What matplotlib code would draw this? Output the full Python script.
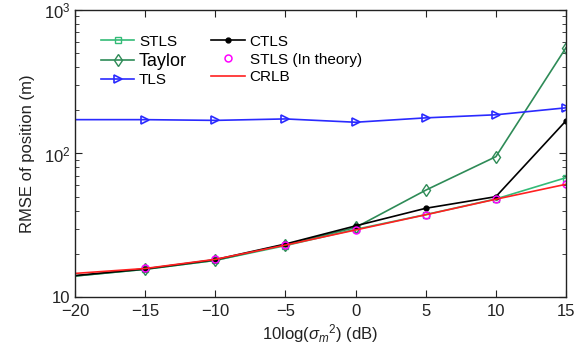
import matplotlib
matplotlib.use('Agg')
import matplotlib.pyplot as plt
from matplotlib.ticker import FixedLocator, FixedFormatter, LogLocator, NullFormatter

plt.rcParams['font.family'] = ['Liberation Sans', 'DejaVu Sans']
plt.rcParams['mathtext.fontset'] = 'custom'
plt.rcParams['mathtext.rm'] = 'Liberation Sans'
plt.rcParams['mathtext.it'] = 'Liberation Sans:italic'

# noise level (dB) and RMSE of position (m)
snr_db = [-20, -15, -10, -5, 0, 5, 10, 15]
stls = [14.0, 15.6, 18.0, 22.8, 29.6, 37.5, 48.2, 67.8]
taylor = [14.0, 15.6, 18.0, 23.2, 30.5, 55.5, 95.0, 546.0]
tls = [172, 172, 170, 174, 165, 177, 186, 208]
ctls = [14.1, 15.7, 18.2, 23.4, 31.3, 41.5, 50.0, 169.0]
stls_theory = [14.6, 15.8, 18.3, 23.0, 29.3, 37.4, 48.0, 61.0]
crlb = [14.6, 15.8, 18.3, 23.0, 29.3, 37.4, 48.0, 61.0]

fig = plt.figure(figsize=(5.75, 3.54), dpi=100)
ax = fig.add_axes([0.1304, 0.161, 0.854, 0.811])

mk = slice(1, None)
ax.plot(snr_db, stls, '-s', color='#33bb77', lw=1.2, ms=5, mfc='none', mew=1, markevery=mk, label='STLS')
ax.plot(snr_db, taylor, '-d', color='#2e8b57', lw=1.2, ms=6, mfc='none', mew=1, markevery=mk, label='Taylor')
ax.plot(snr_db, tls, '->', color='#2a2aff', lw=1.2, ms=6, mfc='none', mew=1.2, markevery=mk, label='TLS')
ax.plot(snr_db, ctls, '-o', color='black', lw=1.2, ms=3.5, markevery=mk, label='CTLS')
ax.plot(snr_db[1:], stls_theory[1:], 'o', color='#ff00ff', ms=5, mfc='none', mew=1.1, ls='none', label='STLS (In theory)')
ax.plot(snr_db, crlb, '-', color='#ff2020', lw=1.2, label='CRLB')

ax.set_yscale('log')
ax.set_xlim(-20, 15)
ax.set_ylim(10, 1000)
ax.xaxis.set_major_locator(FixedLocator(snr_db))
ax.set_xticklabels(['\u221220', '\u221215', '\u221210', '\u22125', '0', '5', '10', '15'])
ax.yaxis.set_major_locator(FixedLocator([10, 100, 1000]))
ax.yaxis.set_major_formatter(FixedFormatter(['10', '$10^2$', '$10^3$']))
ax.yaxis.set_minor_locator(LogLocator(base=10, subs=range(2, 10)))
ax.yaxis.set_minor_formatter(NullFormatter())

ax.tick_params(which='both', direction='in', top=True, right=True, labelsize=12, colors='#222222')
ax.tick_params(which='major', length=5)
ax.tick_params(which='minor', length=3)
ax.tick_params(axis='x', pad=5)
for s in ax.spines.values():
    s.set_linewidth(1.0)
    s.set_color('#222222')

ax.set_xlabel(r'10log($\sigma_{m}$$^{2}$) (dB)', fontsize=12, color='#222222', labelpad=2)
ax.set_ylabel('RMSE of position (m)', fontsize=12, color='#222222', labelpad=6)

leg = ax.legend(ncol=2, loc='upper left', bbox_to_anchor=(0.04, 0.935), frameon=False,
                fontsize=11, handlelength=2.2, handletextpad=0.3, columnspacing=1.6,
                labelspacing=0.25, borderaxespad=0)
leg.get_texts()[1].set_fontsize(13)

fig.savefig('out.png', dpi=100)
